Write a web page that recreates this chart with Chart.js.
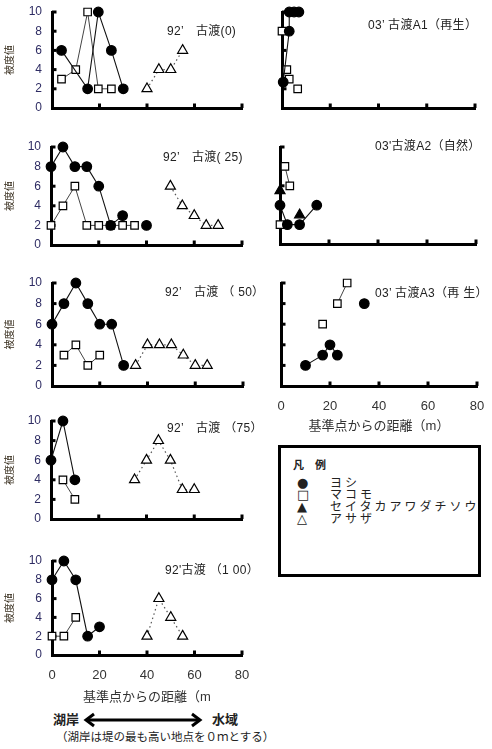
<!DOCTYPE html>
<html lang="ja">
<head>
<meta charset="UTF-8">
<title>古渡 被度値</title>
<script src="https://cdn.jsdelivr.net/npm/chart.js@4.4.1/dist/chart.umd.min.js"></script>
<style>
  body { margin: 0; background: #fff; }
  #page { position: relative; width: 492px; height: 749px; overflow: hidden;
          font-family: "Liberation Sans", "Noto Sans CJK JP", sans-serif; color: #222; }
  #page canvas { position: absolute; }
  .ttl { position: absolute; font-size: 12px; line-height: 12px; white-space: pre; color: #222; letter-spacing: 0.3px; }
  #legend { position: absolute; left: 278px; top: 445px; width: 197px; height: 126px; border: 3px solid #000; }
  #legend div { position: absolute; white-space: pre; line-height: 12px; }
  .sym { left: 16px; font-size: 13px; font-family: "DejaVu Sans", sans-serif; }
  .lab { left: 49px; font-size: 12px; letter-spacing: 3px; }
  .big { position: absolute; font-size: 13px; font-weight: bold; line-height: 14px; white-space: pre; }
</style>
</head>
<body>
<div id="page">
  <canvas id="c0"></canvas>
  <canvas id="c1"></canvas>
  <canvas id="c2"></canvas>
  <canvas id="c3"></canvas>
  <canvas id="c4"></canvas>
  <canvas id="c5"></canvas>
  <canvas id="c6"></canvas>
  <canvas id="c7"></canvas>

  <div class="ttl" style="left:167px;top:25px">92’　古渡(0)</div>
  <div class="ttl" style="left:368px;top:19px">03’ 古渡A1（再生）</div>
  <div class="ttl" style="left:163px;top:151px">92’　古渡( 25)</div>
  <div class="ttl" style="left:375px;top:140px">03'古渡A2（自然）</div>
  <div class="ttl" style="left:165px;top:286px">92’　古渡 （ 50）</div>
  <div class="ttl" style="left:375px;top:287px">03’ 古渡A3（再 生）</div>
  <div class="ttl" style="left:167px;top:422px">92’　古渡 （75）</div>
  <div class="ttl" style="left:165px;top:564px">92'古渡 （1 00）</div>

  <div id="legend">
    <div style="left:12px;top:11px;font-size:11px;font-weight:bold">凡　例</div>
    <div class="sym" style="top:29px">●</div><div class="lab" style="top:29px">ヨシ</div>
    <div class="sym" style="top:41px">□</div><div class="lab" style="top:41px">マコモ</div>
    <div class="sym" style="top:53px">▲</div><div class="lab" style="top:53px">セイタカアワダチソウ</div>
    <div class="sym" style="top:65px">△</div><div class="lab" style="top:65px">アサザ</div>
  </div>

  <div class="big" style="left:53px;top:713px">湖岸</div>
  <svg style="position:absolute;left:82px;top:712px" width="122" height="16">
    <line x1="6" y1="8" x2="116" y2="8" stroke="#000" stroke-width="3"/>
    <polyline points="12,2 4,8 12,14" fill="none" stroke="#000" stroke-width="3"/>
    <polyline points="110,2 118,8 110,14" fill="none" stroke="#000" stroke-width="3"/>
  </svg>
  <div class="big" style="left:212px;top:713px">水域</div>
  <div style="position:absolute;left:56px;top:731px;font-size:11.5px;line-height:13px;white-space:pre">（湖岸は堤の最も高い地点を０ｍとする）</div>
</div>

<script>
// 距離(m), 被度値
const xTickVals = [20, 40, 60, 80];
const yTickVals = [2, 4, 6, 8, 10];

// 92' 古渡(0)
const p0Yoshi  = [[4, 6], [15, 2], [19.5, 10], [25, 6], [30, 2]];
const p0Makomo = [[4, 3], [10, 4], [15, 10], [19.5, 2], [25, 2]];
const p0Asaza  = [[40, 2], [45, 4], [50, 4], [55, 6]];

// 03' 古渡A1(再生)
const p1Yoshi  = [[7, 10], [5, 10], [3, 10], [3, 8], [0.5, 2.7]];
const p1Makomo = [[0, 8], [2, 4], [3, 3], [6.5, 2]];

// 92' 古渡(25)
const p2Yoshi  = [[0, 8], [5, 10], [10, 8], [15, 8], [20, 6], [25, 2], [30, 3], null, [40, 2]];
const p2Makomo = [[0, 2], [5, 4], [10, 6], [15, 2], [20, 2], [25, 2], [30, 2], [35, 2]];
const p2Asaza  = [[50, 6], [55, 4], [60, 3], [65, 2], [70, 2]];

// 03' 古渡A2(自然)
const p3Yoshi   = [[0, 4], [3, 2], [8, 2], [15, 4]];
const p3Makomo  = [[2, 8], [4, 6], null, [0, 2]];
const p3Seitaka = [[0, 5.5], [8, 3]];

// 92' 古渡(50)
const p4Yoshi  = [[0, 6], [5, 8], [10, 10], [15, 8], [20, 6], [25, 6], [30, 2]];
const p4Makomo = [[5, 3], [10, 4], [15, 2], [20, 3]];
const p4Asaza  = [[35, 2], [40, 4], [45, 4], [50, 4], [55, 3], [60, 2], [65, 2]];

// 03' 古渡A3(再生)
const p5Yoshi  = [[10, 2], [17, 3], [20, 4], [23, 3], null, [34, 8]];
const p5Makomo = [[17, 6], null, [23, 8], [27, 10]];

// 92' 古渡(75)
const p6Yoshi  = [[0, 6], [5, 10], [10, 4]];
const p6Makomo = [[5, 4], [10, 2]];
const p6Asaza  = [[35, 4], [40, 6], [45, 8], [50, 6], [55, 3], [60, 3]];

// 92' 古渡(100)
const p7Yoshi  = [[0, 8], [5, 10], [10, 8], [15, 2], [20, 3]];
const p7Makomo = [[0, 2], [5, 2], [10, 4]];
const p7Asaza  = [[40, 2], [45, 6], [50, 4], [55, 2]];

const fontFam = '"Liberation Sans", "Noto Sans CJK JP", sans-serif';

const styles = {
  yoshi:   { pointStyle: 'circle', pointRadius: 4.8, pointBackgroundColor: '#000', pointBorderColor: '#000',
             borderColor: '#111', borderWidth: 1.1 },
  makomo:  { pointStyle: 'rect', pointRadius: 5.3, pointBackgroundColor: '#fff', pointBorderColor: '#000',
             borderColor: '#444', borderWidth: 1 },
  seitaka: { pointStyle: 'triangle', pointRadius: 5.8, pointBackgroundColor: '#000', pointBorderColor: '#000',
             borderColor: '#000', borderWidth: 1 },
  asaza:   { pointStyle: 'triangle', pointRadius: 5.8, pointBackgroundColor: '#fff', pointBorderColor: '#000',
             borderColor: '#555', borderWidth: 1.2, borderDash: [1.5, 3] }
};

let toPts = arr => arr.map(p => p ? { x: p[0], y: p[1] } : { x: null, y: null });

// 軸の内側に小さな目盛を描く
const tickMarks = {
  id: 'tickMarks',
  beforeDatasetsDraw(chart) {
    const { ctx, chartArea: a, scales: { x, y } } = chart;
    ctx.save();
    ctx.fillStyle = '#000';
    yTickVals.forEach(v => {
      const py = y.getPixelForValue(v);
      ctx.fillRect(a.left, py - 1.5, 4.5, 3);
    });
    xTickVals.forEach(v => {
      const px = x.getPixelForValue(v);
      ctx.fillRect(px - 1.5, a.bottom - 4.5, 3, 4.5);
    });
    ctx.restore();
  }
};

const panels = [
  { id: 'c0', area: [52, 12, 242, 108], left: true,  sets: [['yoshi', p0Yoshi], ['makomo', p0Makomo], ['asaza', p0Asaza]] },
  { id: 'c1', area: [282, 12, 475, 108], left: false, sets: [['yoshi', p1Yoshi], ['makomo', p1Makomo, true]] },
  { id: 'c2', area: [51, 147, 242, 245], left: true,  sets: [['yoshi', p2Yoshi], ['makomo', p2Makomo], ['asaza', p2Asaza]] },
  { id: 'c3', area: [280, 147, 476, 244], left: false, sets: [['yoshi', p3Yoshi], ['makomo', p3Makomo], ['seitaka', p3Seitaka, true]] },
  { id: 'c4', area: [52, 283, 243, 386], left: true,  sets: [['yoshi', p4Yoshi], ['makomo', p4Makomo], ['asaza', p4Asaza]] },
  { id: 'c5', area: [281, 283, 477, 386], left: false, sets: [['yoshi', p5Yoshi], ['makomo', p5Makomo]],
    xTitle: '基準点からの距離（m）', xh: 48 },
  { id: 'c6', area: [51, 421, 242, 519], left: true,  sets: [['yoshi', p6Yoshi], ['makomo', p6Makomo], ['asaza', p6Asaza]] },
  { id: 'c7', area: [52, 561, 242, 655], left: true,  sets: [['yoshi', p7Yoshi], ['makomo', p7Makomo], ['asaza', p7Asaza]],
    xTitle: '基準点からの距離（m', xh: 50 }
];

function makePanel(p) {
  const [l, t, r, b] = p.area;
  const yw = p.left ? l : 12;
  const padTop = 10, padRight = 14;
  const xh = p.xTitle ? p.xh : 8;
  const cv = document.getElementById(p.id);
  cv.width = (r - l) + yw + padRight;
  cv.height = (b - t) + padTop + xh;
  cv.style.left = (l - yw) + 'px';
  cv.style.top = (t - padTop) + 'px';

  const datasets = p.sets.map(([kind, arr, noLine]) => Object.assign({
    label: kind,
    data: toPts(arr),
    showLine: !noLine,
    pointBorderWidth: 1.2,
    clip: false
  }, styles[kind]));

  // 目盛ラベルの間隔は tickLength で取る（ticks.padding は外側余白を増やすため 0）
  return new Chart(cv, {
    type: 'scatter',
    data: { datasets: datasets },
    options: {
      responsive: false,
      animation: false,
      events: [],
      layout: { padding: { top: padTop, right: padRight, left: 0, bottom: 0 } },
      plugins: { legend: { display: false }, tooltip: { enabled: false } },
      scales: {
        x: {
          type: 'linear', min: 0, max: 80,
          afterFit: s => { s.height = xh; },
          grid: { display: false, drawTicks: true, tickLength: 13 },
          border: { display: true, color: '#000', width: 3 },
          ticks: { display: !!p.xTitle, stepSize: 20, padding: 0, color: '#333', autoSkip: false,
                   font: { size: 13, family: fontFam } },
          title: { display: !!p.xTitle, text: p.xTitle || '', color: '#333',
                   padding: { top: 0, bottom: 0 }, font: { size: 13, family: fontFam } }
        },
        y: {
          min: 0, max: 10,
          afterFit: s => { s.width = yw; },
          grid: { display: false, drawTicks: true, tickLength: 10 },
          border: { display: true, color: '#000', width: 3 },
          ticks: { display: p.left, stepSize: 2, padding: 0, color: '#2e2c63', autoSkip: false,
                   font: { size: 12, family: fontFam } },
          title: { display: p.left, text: '被度値', color: '#3a3020',
                   padding: { top: 4, bottom: 0 }, font: { size: 10, family: fontFam } }
        }
      }
    },
    plugins: [tickMarks]
  });
}

panels.forEach(makePanel);
</script>
</body>
</html>
